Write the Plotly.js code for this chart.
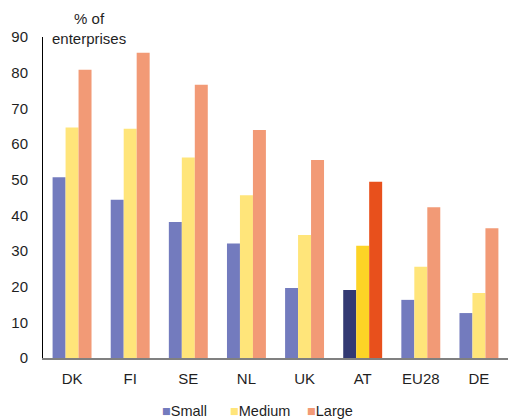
<!DOCTYPE html>
<html>
<head>
<meta charset="utf-8">
<script src="https://cdn.plot.ly/plotly-3.0.1.min.js"></script>
<style>
  html, body { margin: 0; padding: 0; background: #fff; }
  #chart { width: 508px; height: 419px; }
</style>
</head>
<body>
<div id="chart"></div>
<script>
// Share of enterprises by size class, per country
const countries = ['DK', 'FI', 'SE', 'NL', 'UK', 'AT', 'EU28', 'DE'];
const small  = [50.7, 44.4, 38.1, 32.1, 19.6, 19.1, 16.3, 12.6];
const medium = [64.6, 64.3, 56.2, 45.6, 34.5, 31.5, 25.6, 18.2];
const large  = [80.8, 85.6, 76.6, 63.9, 55.5, 49.4, 42.3, 36.4];

const seriesNames = ['Small', 'Medium', 'Large'];
const baseColors  = ['#737BBE', '#FFE57A', '#F29A76'];
const focusColors = ['#333A73', '#FDD426', '#E8501C'];
const focusCountry = 'AT';

const font = 'Arial, "Liberation Sans", sans-serif';
const textColor = '#1f1f1f';

function colorsFor(i) {
  return countries.map(c => c === focusCountry ? focusColors[i] : baseColors[i]);
}

const traces = [small, medium, large].map((vals, i) => ({
  type: 'bar',
  name: seriesNames[i],
  x: countries,
  y: vals,
  marker: { color: colorsFor(i) },
  showlegend: false,
  hoverinfo: 'x+y+name'
}));

// Plot area spans 43..508 px horizontally, 37..358 px vertically
const plotL = 43, plotR = 508, plotT = 37, plotB = 358;
const px = v => (v - plotL) / (plotR - plotL);
const py = v => (plotB - v) / (plotB - plotT);

// Compact legend: coloured square glyph directly before each label
const legendX = [160, 228, 305];
const annotations = seriesNames.map((n, i) => ({
  xref: 'paper', yref: 'paper',
  x: px(legendX[i]), y: py(411),
  xanchor: 'left', yanchor: 'middle',
  showarrow: false,
  text: '<span style="color:' + baseColors[i] + '">■</span>' + n,
  font: { family: font, size: 14.5, color: textColor }
}));

annotations.push({
  xref: 'paper', yref: 'paper',
  x: px(89), y: py(49),
  xanchor: 'center', yanchor: 'bottom',
  showarrow: false,
  text: '% of<br>enterprises',
  font: { family: font, size: 15, color: textColor }
});

const layout = {
  width: 508,
  height: 419,
  margin: { l: plotL, r: 508 - plotR, t: plotT, b: 419 - plotB },
  paper_bgcolor: '#ffffff',
  plot_bgcolor: '#ffffff',
  barmode: 'group',
  bargap: 0.33,
  bargroupgap: 0,
  font: { family: font, size: 15, color: textColor },
  xaxis: {
    showline: true,
    linecolor: '#808080',
    linewidth: 1.5,
    showgrid: false,
    zeroline: false,
    ticks: '',
    ticklabelstandoff: 6,
    tickfont: { family: font, size: 15, color: textColor },
    fixedrange: true
  },
  yaxis: {
    range: [0, 90],
    dtick: 10,
    showline: true,
    linecolor: '#000000',
    linewidth: 1,
    showgrid: false,
    zeroline: false,
    ticks: '',
    ticklabelstandoff: 11,
    tickfont: { family: font, size: 15, color: textColor },
    fixedrange: true
  },
  annotations: annotations
};

Plotly.newPlot('chart', traces, layout, { displayModeBar: false, staticPlot: true });
</script>
</body>
</html>
